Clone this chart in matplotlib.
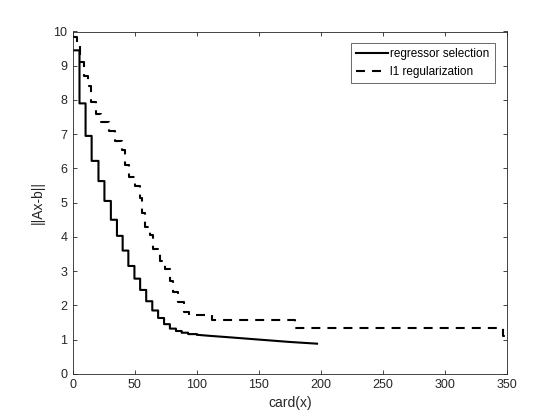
import matplotlib
matplotlib.use("Agg")
import matplotlib.pyplot as plt

plt.rcParams['font.family'] = ['Liberation Sans', 'DejaVu Sans']

# regressor selection (staircase up to ~100, then a smooth tail)
rs_x = [0, 5.4, 10.3, 15.2, 20.7, 25.5, 30.7, 35.6, 40.2, 44.8, 49.7, 54.3, 59.2,
        64.1, 68.8, 73.6, 78.3, 83.2, 87.8, 93, 100, 110, 125, 150, 175, 197]
rs_y = [9.45, 7.9, 6.95, 6.22, 5.63, 5.05, 4.5, 4.03, 3.6, 3.15, 2.78, 2.45, 2.12,
        1.85, 1.63, 1.45, 1.32, 1.25, 1.2, 1.16, 1.14, 1.11, 1.07, 1.0, 0.93, 0.88]

# l1 regularization (staircase)
l1_x = [0, 3, 6, 9, 12, 15, 19, 23, 29, 34, 40, 42, 45, 50, 54, 56, 58, 62, 65,
        70, 74, 78, 81, 85, 90, 94, 112, 179, 347, 350]
l1_y = [9.85, 9.7, 9.1, 8.7, 8.4, 7.95, 7.6, 7.35, 7.1, 6.8, 6.55, 6.1, 5.75, 5.5,
        5.15, 4.7, 4.3, 4.05, 3.65, 3.3, 3.05, 2.7, 2.4, 2.1, 1.8, 1.73, 1.56, 1.35,
        1.1, 1.1]

STEP_UNTIL = 100

# build the regressor path: stairs where steps are visible, line afterwards
px, py = [rs_x[0]], [rs_y[0]]
for i in range(1, len(rs_x)):
    if rs_x[i] <= STEP_UNTIL:
        px.append(rs_x[i]); py.append(rs_y[i - 1])
    px.append(rs_x[i]); py.append(rs_y[i])

fig = plt.figure(figsize=(5.6, 4.2), dpi=100)
ax = fig.add_axes([0.13, 0.11, 0.775, 0.815])

ax.plot(px, py, color='k', lw=1.5, label='regressor selection')
ax.plot(l1_x, l1_y, color='k', lw=1.5, drawstyle='steps-post',
        dashes=(4.3, 3.4), label='l1 regularization')

ax.set_xlim(0, 350)
ax.set_ylim(0, 10)
ax.set_xticks(range(0, 351, 50))
ax.set_yticks(range(0, 11))
ax.tick_params(direction='in', top=True, right=True, labelsize=9, length=3,
               width=0.6, colors='#262626', pad=4)
for s in ax.spines.values():
    s.set_linewidth(0.6)
    s.set_color('#262626')
ax.set_xlabel('card(x)', fontsize=10, color='#262626', labelpad=3)
ax.set_ylabel('||Ax-b||', fontsize=10, color='#262626', labelpad=6)

leg = ax.legend(loc='upper right', fontsize=8.5, frameon=True, fancybox=False,
                edgecolor='#262626', handlelength=2.7, handletextpad=0.2,
                bbox_to_anchor=(0.9725, 0.9675), borderaxespad=0.0,
                borderpad=0.45, labelspacing=0.5)
leg.get_frame().set_linewidth(0.6)

fig.savefig('out.png', dpi=100)
